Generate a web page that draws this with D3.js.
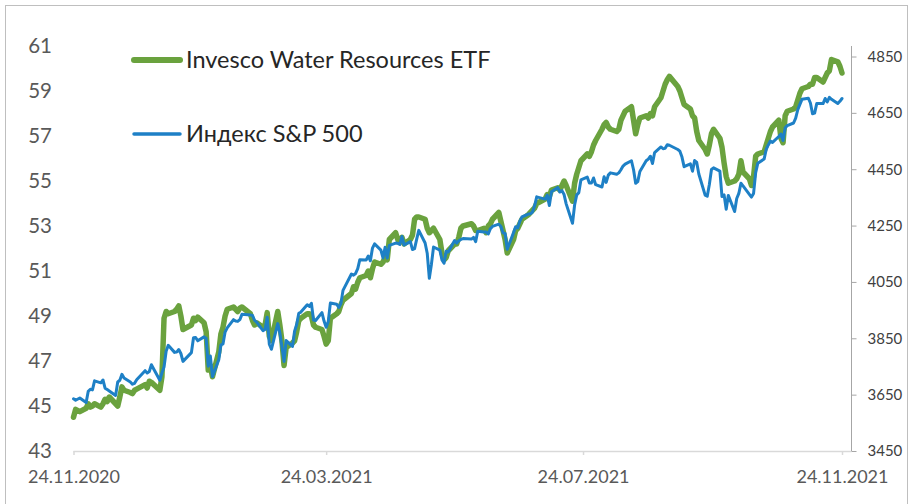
<!DOCTYPE html>
<html><head><meta charset="utf-8">
<script src="https://cdn.jsdelivr.net/npm/d3@7"></script>
<style>body{margin:0;background:#fff;}svg{display:block;}</style>
</head><body>
<svg id="chart" width="914" height="504"></svg>
<script>
// trading days (month, day list)
const tradingDays = [
  ["2020-11",[24,25,27,30]],
  ["2020-12",[1,2,3,4,7,8,9,10,11,14,15,16,17,18,21,22,23,24,28,29,30,31]],
  ["2021-01",[4,5,6,7,8,11,12,13,14,15,19,20,21,22,25,26,27,28,29]],
  ["2021-02",[1,2,3,4,5,8,9,10,11,12,16,17,18,19,22,23,24,25,26]],
  ["2021-03",[1,2,3,4,5,8,9,10,11,12,15,16,17,18,19,22,23,24,25,26,29,30,31]],
  ["2021-04",[1,5,6,7,8,9,12,13,14,15,16,19,20,21,22,23,26,27,28,29,30]],
  ["2021-05",[3,4,5,6,7,10,11,12,13,14,17,18,19,20,21,24,25,26,27,28]],
  ["2021-06",[1,2,3,4,7,8,9,10,11,14,15,16,17,18,21,22,23,24,25,28,29,30]],
  ["2021-07",[1,2,6,7,8,9,12,13,14,15,16,19,20,21,22,23,26,27,28,29,30]],
  ["2021-08",[2,3,4,5,6,9,10,11,12,13,16,17,18,19,20,23,24,25,26,27,30,31]],
  ["2021-09",[1,2,3,7,8,9,10,13,14,15,16,17,20,21,22,23,24,27,28,29,30]],
  ["2021-10",[1,4,5,6,7,8,11,12,13,14,15,18,19,20,21,22,25,26,27,28,29]],
  ["2021-11",[1,2,3,4,5,8,9,10,11,12,15,16,17,18,19,22,23,24]]
];

// S&P 500 (right axis)
const sp500 = [
  3635,3630,3638,3622,
  3662,3669,3667,3699,3692,3702,3673,3668,3663,3647,3695,3701,3722,3709,3695,3687,3690,3703,3735,3727,3732,3756,
  3701,3727,3748,3804,3825,3800,3801,3810,3796,3768,3799,3852,3853,3841,3855,3850,3751,3787,3714,
  3774,3826,3830,3872,3887,3916,3911,3910,3916,3935,3933,3931,3914,3907,3877,3881,3925,3829,3811,
  3902,3870,3820,3768,3842,3821,3875,3899,3939,3943,3969,3963,3974,3915,3913,3941,3911,3889,3910,3975,3971,3959,3973,
  4020,4078,4074,4080,4097,4129,4128,4142,4125,4170,4185,4163,4135,4173,4135,4180,4188,4187,4183,4211,4181,
  4193,4165,4168,4202,4233,4188,4152,4063,4113,4174,4163,4128,4116,4159,4156,4197,4188,4196,4201,4204,
  4202,4208,4193,4230,4227,4227,4220,4239,4247,4255,4247,4224,4222,4166,4225,4246,4242,4266,4281,4291,4292,4298,
  4320,4352,4344,4358,4321,4370,4385,4369,4374,4360,4327,4258,4323,4359,4367,4412,4422,4401,4401,4419,4395,
  4387,4423,4403,4429,4437,4432,4437,4448,4461,4468,4480,4448,4400,4406,4442,4480,4486,4496,4470,4509,4529,4523,
  4524,4537,4535,4520,4514,4493,4459,4469,4443,4481,4474,4433,4358,4354,4396,4449,4455,4443,4353,4359,4308,
  4357,4300,4346,4364,4400,4391,4361,4351,4364,4438,4471,4486,4520,4536,4550,4545,4566,4575,4552,4596,4605,
  4614,4631,4661,4680,4698,4702,4685,4647,4649,4683,4683,4701,4689,4705,4698,4683,4691,4701
];

// Invesco Water Resources ETF (left axis)
const pho = [
  44.5,44.85,44.75,44.9,
  45.1,44.95,45.0,45.1,44.95,45.1,45.3,45.2,45.4,45.1,45.0,45.4,45.85,45.7,45.6,45.55,45.7,45.75,45.95,45.8,46.1,46.05,
  45.7,46.3,48.9,49.2,49.1,49.2,49.3,49.45,49.0,48.4,48.6,48.9,48.8,48.95,48.7,48.3,46.6,46.8,46.3,
  47.4,48.2,48.5,49.0,49.3,49.4,49.3,49.2,49.35,49.4,49.1,48.8,48.6,48.7,48.5,48.6,49.15,48.1,47.9,
  49.2,48.6,47.9,46.8,47.6,47.8,47.9,48.3,48.8,48.9,49.1,49.1,49.0,48.6,48.5,48.4,48.1,47.75,47.9,48.9,49.1,49.2,49.5,
  49.7,50.0,50.3,50.2,50.5,50.7,50.8,51.0,50.7,51.1,51.4,51.3,51.4,51.6,51.5,52.4,52.7,52.4,52.3,52.5,52.2,
  52.4,52.6,53.3,53.4,53.4,53.3,52.9,52.7,52.8,52.9,52.4,51.8,51.5,51.6,51.9,52.2,52.2,52.5,52.9,53.0,
  53.1,53.0,52.8,52.8,52.9,52.7,53.0,53.1,53.3,53.6,53.2,52.8,52.4,51.8,52.4,52.8,52.9,53.1,53.3,53.5,53.6,53.7,
  53.8,54.0,54.2,54.4,54.3,54.6,54.7,54.6,54.8,55.0,54.8,54.1,54.9,55.3,55.6,55.9,56.2,56.1,56.3,56.6,56.8,
  57.3,57.5,57.6,57.4,57.3,57.2,57.3,57.7,57.9,58.1,58.3,57.7,57.1,57.5,57.8,57.9,57.8,58.0,57.9,58.3,58.7,59.0,
  59.3,59.5,59.65,59.2,59.0,58.7,58.4,58.2,57.9,57.8,57.2,56.8,56.4,56.2,56.6,57.1,57.3,56.9,56.5,55.8,55.2,
  54.9,55.0,55.1,55.3,55.9,55.4,55.1,54.8,55.2,56.1,56.2,56.3,56.6,56.9,57.2,57.4,57.7,56.9,56.7,57.9,58.1,
  58.2,58.3,58.6,58.9,59.1,59.2,59.3,59.3,59.6,59.6,59.4,59.6,59.8,59.9,60.4,60.3,60.1,59.8
];

const leftTicks = [43,45,47,49,51,53,55,57,59,61];
const rightTicks = [3450,3650,3850,4050,4250,4450,4650,4850];
const xTickLabels = ["24.11.2020","24.03.2021","24.07.2021","24.11.2021"];
const seriesNames = ["Invesco Water Resources ETF","Индекс S&P 500"];
const seriesColors = ["#6aa23e","#1e80c6"];

const parseISO = d3.timeParse("%Y-%m-%d");
const parseRu = d3.timeParse("%d.%m.%Y");
const fmtRu = d3.timeFormat("%d.%m.%Y");

const dates = tradingDays.flatMap(([m, ds]) => ds.map(d => parseISO(m + "-" + String(d).padStart(2,"0"))));
const rows = dates.map((d,i) => ({date:d, pho:pho[i], sp:sp500[i]}));

const svg = d3.select("#chart");
const FONT = "Lato, 'Open Sans', sans-serif";

// outer frame
svg.append("rect").attr("x",5.5).attr("y",5.5).attr("width",902).attr("height",520)
  .attr("fill","#fff").attr("stroke","#bfbfbf").attr("stroke-width",1);

const xTickDates = xTickLabels.map(parseRu);
const x = d3.scaleTime().domain([xTickDates[0], xTickDates[3]]).range([73.5, 842]);
const yL = d3.scaleLinear().domain([43,61]).range([451,46]);
const yR = d3.scaleLinear().domain([3450,4850]).range([451,56.5]);

// x axis
const gx = svg.append("g").attr("transform","translate(0,451)")
  .call(d3.axisBottom(x).tickValues(xTickDates).tickFormat(fmtRu).tickSize(4).tickPadding(15));
gx.select(".domain").remove();
gx.selectAll(".tick line").attr("stroke","#d9d9d9").attr("stroke-width",1.5);
gx.selectAll("text").attr("fill","#595959").style("font-family",FONT).style("font-size","18px");
svg.append("line").attr("x1",73.5).attr("x2",851.5).attr("y1",451.5).attr("y2",451.5)
  .attr("stroke","#d9d9d9").attr("stroke-width",1.5);

// left axis (labels only)
const gl = svg.append("g").attr("transform","translate(73,0)")
  .call(d3.axisLeft(yL).tickValues(leftTicks).tickSize(0).tickPadding(21).tickFormat(d3.format("d")));
gl.select(".domain").remove();
gl.selectAll("text").attr("fill","#595959").style("font-family",FONT).style("font-size","20.5px");

// right axis
const gr = svg.append("g").attr("transform","translate(851.5,0)")
  .call(d3.axisRight(yR).tickValues(rightTicks).tickSize(5).tickPadding(11).tickFormat(d3.format("d")));
gr.select(".domain").remove();
gr.selectAll(".tick line").attr("stroke","#a6a6a6");
gr.selectAll("text").attr("fill","#404040").style("font-family",FONT).style("font-size","15px");
svg.append("line").attr("x1",851.5).attr("x2",851.5).attr("y1",46).attr("y2",451)
  .attr("stroke","#a6a6a6").attr("stroke-width",1);

// lines
const lineG = d3.line().x(d => x(d.date)).y(d => yL(d.pho));
const lineB = d3.line().x(d => x(d.date)).y(d => yR(d.sp));
svg.append("path").datum(rows).attr("d",lineG).attr("fill","none")
  .attr("stroke",seriesColors[0]).attr("stroke-width",5.5).attr("stroke-linejoin","round").attr("stroke-linecap","round");
svg.append("path").datum(rows).attr("d",lineB).attr("fill","none")
  .attr("stroke",seriesColors[1]).attr("stroke-width",3).attr("stroke-linejoin","round").attr("stroke-linecap","round");

// legend
const legY = [60, 134];
const legW = [6, 3.5];
seriesNames.forEach((name,i) => {
  svg.append("line").attr("x1",134).attr("x2",180).attr("y1",legY[i]).attr("y2",legY[i])
    .attr("stroke",seriesColors[i]).attr("stroke-width",legW[i]).attr("stroke-linecap","round");
  svg.append("text").attr("x",186).attr("y",legY[i]).attr("dy","0.35em")
    .attr("fill","#262626").style("font-family",FONT).style("font-size","23.5px").text(name);
});
</script>
</body></html>
